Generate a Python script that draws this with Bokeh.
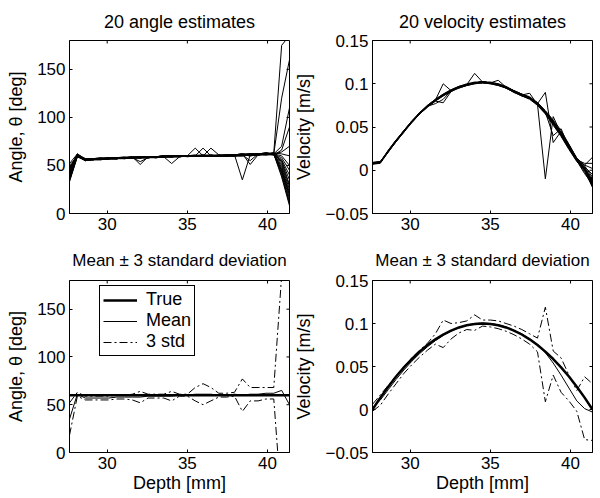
import math
from bokeh.plotting import figure
from bokeh.layouts import gridplot
from bokeh.models import Range1d, FixedTicker, Legend, LegendItem, LinearAxis
from bokeh.embed import file_html
from bokeh.resources import INLINE

FONT = "Liberation Sans"
FS_TICK = "17px"
FS_LAB = "18px"

depth_mm = [27.65, 28.14, 28.63, 29.12, 29.61, 30.10, 30.59, 31.08, 31.57, 32.06,
            32.55, 33.04, 33.53, 34.02, 34.51, 35.00, 35.49, 35.98, 36.47, 36.96,
            37.45, 37.94, 38.43, 38.92, 39.41, 39.90, 40.39, 40.88, 41.37]
x_ticks = [30, 35, 40]
angle_ticks = [0, 50, 100, 150]
velocity_ticks = [-0.05, 0, 0.05, 0.1, 0.15]
velocity_tick_labels = ["\u22120.05", "0", "0.05", "0.1", "0.15"]

# 20 angle estimates [deg]
angle_estimates = [
    [36, 61, 57, 57, 57, 58, 58, 58, 59, 51, 59, 59, 60, 59, 60, 60, 60, 60, 60, 60, 60, 61, 61, 62, 62, 62, 63, 175, 185],
    [40, 60, 56, 56, 57, 57, 57, 58, 58, 54, 58, 59, 59, 60, 60, 60, 60, 60, 60, 60, 61, 61, 62, 61, 62, 63, 62, 120, 160],
    [45, 62, 57, 57, 58, 57, 58, 58, 58, 59, 59, 59, 59, 52, 59, 60, 60, 61, 60, 60, 60, 60, 61, 60, 61, 62, 62, 70, 110],
    [33, 59, 55, 56, 56, 57, 57, 57, 58, 58, 58, 58, 59, 59, 59, 60, 68, 60, 60, 60, 60, 60, 60, 61, 61, 61, 61, 66, 90],
    [50, 60, 56, 57, 57, 57, 58, 58, 58, 58, 59, 59, 59, 59, 60, 60, 60, 68, 60, 60, 60, 60, 61, 61, 62, 62, 62, 64, 70],
    [42, 61, 56, 56, 57, 58, 57, 58, 59, 59, 58, 59, 60, 60, 60, 60, 60, 60, 68, 61, 60, 61, 61, 61, 61, 62, 63, 62, 60],
    [38, 60, 57, 56, 57, 57, 58, 58, 58, 58, 59, 59, 59, 60, 60, 60, 60, 60, 60, 60, 60, 61, 35, 61, 62, 62, 62, 60, 50],
    [47, 61, 55, 56, 56, 57, 57, 58, 58, 59, 59, 58, 59, 59, 59, 60, 60, 60, 60, 60, 61, 61, 62, 51, 61, 62, 62, 58, 45],
    [35, 59, 56, 57, 57, 57, 57, 58, 58, 58, 58, 59, 59, 60, 60, 60, 61, 60, 60, 60, 60, 60, 61, 55, 62, 63, 62, 56, 40],
    [44, 60, 57, 57, 57, 58, 58, 58, 58, 59, 59, 59, 60, 59, 60, 59, 60, 60, 61, 60, 60, 61, 61, 62, 62, 62, 61, 55, 35],
    [52, 62, 56, 56, 57, 57, 58, 57, 58, 58, 59, 59, 59, 60, 60, 60, 60, 60, 60, 60, 60, 60, 60, 61, 61, 61, 62, 54, 30],
    [39, 60, 55, 57, 57, 57, 57, 58, 58, 58, 58, 59, 59, 59, 59, 60, 60, 60, 60, 61, 60, 61, 61, 61, 62, 62, 63, 52, 28],
    [41, 61, 56, 56, 56, 57, 58, 58, 59, 58, 59, 59, 59, 60, 60, 60, 60, 60, 60, 60, 61, 61, 62, 62, 62, 63, 62, 50, 25],
    [37, 60, 57, 57, 57, 57, 57, 58, 58, 59, 58, 59, 60, 59, 60, 60, 60, 60, 60, 60, 60, 60, 61, 61, 61, 62, 62, 48, 22],
    [48, 59, 56, 56, 57, 58, 58, 58, 58, 58, 59, 58, 59, 60, 59, 60, 60, 61, 60, 60, 60, 61, 61, 60, 61, 62, 61, 46, 20],
    [43, 61, 56, 57, 58, 57, 57, 58, 58, 58, 59, 59, 59, 59, 60, 60, 60, 60, 60, 60, 60, 60, 60, 61, 62, 61, 62, 45, 18],
    [34, 60, 57, 56, 57, 57, 58, 59, 58, 59, 59, 59, 60, 60, 60, 60, 60, 60, 60, 61, 61, 61, 61, 62, 62, 62, 63, 44, 15],
    [46, 62, 56, 57, 57, 57, 57, 58, 58, 58, 58, 59, 59, 59, 60, 60, 60, 60, 61, 60, 60, 60, 61, 61, 61, 62, 62, 42, 12],
    [40, 60, 55, 56, 57, 58, 58, 58, 58, 59, 59, 59, 59, 60, 60, 60, 60, 60, 60, 60, 60, 61, 62, 61, 62, 62, 62, 40, 10],
    [38, 61, 56, 57, 57, 57, 58, 58, 59, 58, 59, 59, 59, 59, 60, 60, 60, 60, 60, 60, 61, 60, 61, 62, 61, 63, 62, 38, 8],
]

# 20 velocity estimates [mm/s]
velocity_estimates_mm_s = [
    [8, 9, 22, 34, 45, 56, 66, 74, 81, 100, 92, 96, 99, 101, 102, 101, 99, 96, 91, 87, 84, 77, 67, 55, 42, 27, 12, 2, -15],
    [8, 10, 21, 33, 45, 55, 65, 74, 80, 78, 91, 96, 99, 101, 102, 101, 99, 96, 92, 87, 83, 77, 66, 54, 41, 26, 11, 0, -18],
    [7, 9, 22, 34, 46, 56, 66, 75, 81, 87, 92, 96, 99, 112, 102, 101, 100, 96, 91, 88, 84, 78, 68, 56, 43, 28, 13, 3, -10],
    [8, 9, 23, 35, 45, 56, 66, 74, 77, 82, 92, 96, 98, 101, 102, 101, 99, 95, 91, 87, 84, 77, 67, 55, 42, 27, 12, 1, -20],
    [8, 9, 22, 34, 45, 56, 66, 74, 81, 87, 92, 96, 99, 101, 102, 101, 99, 96, 91, 87, 84, 76, -10, 62, 42, 27, 12, 4, -5],
    [8, 9, 22, 34, 45, 56, 66, 74, 81, 87, 92, 96, 99, 101, 102, 101, 99, 96, 91, 87, 84, 77, 90, 32, 45, 28, 12, 2, -14],
    [9, 10, 22, 34, 45, 56, 65, 74, 81, 87, 92, 96, 99, 101, 102, 101, 99, 96, 91, 87, 84, 77, 67, 40, 48, 26, 11, 6, 15],
    [8, 9, 21, 34, 45, 56, 66, 74, 81, 87, 92, 96, 99, 101, 101, 101, 99, 96, 91, 87, 89, 76, 67, 55, 42, 27, 12, 2, -16],
    [8, 9, 22, 34, 45, 56, 66, 74, 81, 87, 92, 96, 99, 101, 102, 101, 104, 96, 91, 87, 84, 77, 67, 55, 42, 27, 12, 0, -12],
    [8, 9, 22, 33, 44, 55, 65, 73, 80, 86, 91, 95, 98, 100, 101, 100, 98, 95, 90, 86, 82, 75, 65, 52, 39, 24, 10, 1, -17],
    [8, 10, 23, 35, 46, 57, 67, 75, 82, 88, 93, 97, 100, 102, 102, 101, 99, 96, 92, 88, 84, 78, 68, 57, 44, 29, 14, 5, -8],
    [7, 8, 21, 33, 44, 56, 66, 74, 81, 87, 92, 96, 99, 101, 102, 102, 100, 97, 92, 88, 85, 78, 69, 58, 46, 30, 13, 2, -18],
    [8, 9, 22, 34, 45, 56, 66, 74, 81, 87, 92, 96, 99, 101, 102, 101, 99, 96, 91, 86, 83, 76, 66, 53, 40, 25, 11, -2, -19],
    [8, 9, 22, 34, 45, 56, 66, 74, 81, 87, 92, 95, 98, 100, 101, 100, 98, 95, 91, 87, 84, 77, 67, 56, 43, 27, 12, 3, -13],
    [9, 10, 22, 34, 45, 56, 66, 74, 81, 87, 92, 96, 99, 101, 102, 101, 99, 96, 91, 87, 84, 77, 67, 55, 42, 28, 12, 8, 8],
    [8, 9, 22, 34, 46, 57, 66, 75, 82, 88, 93, 97, 99, 101, 102, 101, 99, 96, 91, 87, 83, 76, 66, 54, 41, 26, 11, -4, -16],
    [8, 9, 22, 34, 45, 56, 66, 74, 81, 87, 92, 96, 99, 101, 102, 101, 99, 96, 92, 88, 84, 78, 68, 56, 43, 28, 13, 2, -15],
    [8, 9, 22, 34, 45, 56, 65, 73, 80, 86, 91, 96, 99, 101, 102, 101, 99, 95, 90, 86, 83, 76, 66, 54, 41, 26, 12, 0, -11],
    [8, 9, 22, 34, 45, 56, 66, 74, 81, 87, 92, 96, 99, 101, 102, 101, 99, 96, 91, 87, 84, 77, 67, 55, 44, 30, 14, 6, 2],
    [8, 9, 22, 34, 45, 56, 66, 74, 81, 87, 92, 96, 99, 101, 102, 101, 99, 96, 91, 87, 84, 77, 67, 55, 42, 27, 12, 1, -14],
]

true_angle = [60, 60, 60, 60, 60, 60, 60, 60, 60, 60, 60, 60, 60, 60, 60,
              60, 60, 60, 60, 60, 60, 60, 60, 60, 60, 60, 60, 60, 60]
mean_angle = [35, 61, 57, 57, 57, 57, 58, 58, 58, 58, 59, 59, 59, 59, 60,
              60, 61, 61, 61, 60, 60, 61, 60, 61, 61, 62, 62, 65, 50]
angle_plus_3std = [52, 63, 59, 59, 59, 59, 60, 60, 61, 64, 61, 61, 61, 64, 61,
                   61, 68, 72, 68, 62, 62, 63, 77, 68, 68, 68, 68, 185, 280]
angle_minus_3std = [18, 59, 55, 55, 55, 55, 56, 56, 55, 52, 57, 57, 57, 54, 59,
                    59, 54, 50, 54, 58, 58, 59, 43, 54, 54, 56, 56, -55, -180]

true_velocity = [0.0, 0.0138, 0.0265, 0.0383, 0.0490, 0.0587, 0.0673, 0.0750, 0.0816, 0.0872,
                 0.0918, 0.0954, 0.0980, 0.0995, 0.1000, 0.0995, 0.0980, 0.0954, 0.0918, 0.0872,
                 0.0816, 0.0750, 0.0673, 0.0587, 0.0490, 0.0383, 0.0265, 0.0138, 0.0]
mean_velocity = [0.002, 0.011, 0.023, 0.035, 0.046, 0.056, 0.065, 0.073, 0.080, 0.086,
                 0.091, 0.095, 0.098, 0.100, 0.1005, 0.100, 0.0985, 0.096, 0.092, 0.088,
                 0.082, 0.075, 0.066, 0.054, 0.040, 0.025, 0.010, 0.001, -0.003]
velocity_plus_3std = [0.006, 0.017, 0.028, 0.039, 0.050, 0.060, 0.069, 0.077, 0.088, 0.104,
                      0.100, 0.101, 0.103, 0.110, 0.104, 0.104, 0.103, 0.100, 0.097, 0.093,
                      0.088, 0.083, 0.119, 0.068, 0.060, 0.040, 0.022, 0.038, 0.030]
velocity_minus_3std = [-0.002, 0.005, 0.018, 0.030, 0.042, 0.052, 0.061, 0.069, 0.076, 0.072,
                       0.082, 0.089, 0.093, 0.092, 0.097, 0.096, 0.094, 0.091, 0.087, 0.082,
                       0.076, 0.067, 0.009, 0.040, 0.020, 0.010, -0.002, -0.035, -0.036]


def make_fig(title, width, height, mbl, mbr, mbt, mbb, y_lo, y_hi, y_ticks,
             y_label, x_label=None, y_overrides=None, title_size=FS_LAB, title_gap=9):
    x_lo, x_hi = depth_mm[0], depth_mm[-1]
    p = figure(width=width, height=height, output_backend="svg", toolbar_location=None,
               x_range=Range1d(x_lo, x_hi), y_range=Range1d(y_lo, y_hi),
               min_border_left=mbl, min_border_right=mbr, min_border_top=mbt,
               min_border_bottom=mbb)
    p.xgrid.visible = False
    p.ygrid.visible = False
    p.outline_line_color = "black"
    p.outline_line_alpha = 1
    p.background_fill_color = "white"
    p.border_fill_color = "white"

    xax = p.below[0]
    yax = p.left[0]
    for ax in (xax, yax):
        ax.major_tick_in = 3
        ax.major_tick_out = 0
        ax.minor_tick_line_color = None
        ax.major_tick_line_color = "black"
        ax.axis_line_color = "black"
        ax.major_label_text_font = FONT
        ax.major_label_text_font_size = FS_TICK
        ax.major_label_text_color = "black"
        ax.axis_label_text_font = FONT
        ax.axis_label_text_font_size = FS_LAB
        ax.axis_label_text_font_style = "normal"
        ax.axis_label_text_color = "black"
    xax.ticker = FixedTicker(ticks=x_ticks)
    yax.ticker = FixedTicker(ticks=y_ticks)
    xax.major_label_standoff = 4
    yax.major_label_standoff = 4
    yax.axis_label = y_label
    yax.axis_label_standoff = 8
    if y_overrides:
        yax.major_label_overrides = y_overrides
    if x_label:
        xax.axis_label = x_label
        xax.axis_label_standoff = 1

    # title drawn as the label of a bare top axis, centred over the frame
    head = LinearAxis(ticker=FixedTicker(ticks=[]), axis_label=title,
                      axis_label_standoff=title_gap, axis_line_color=None,
                      major_tick_line_color=None, minor_tick_line_color=None,
                      major_label_standoff=0, major_tick_in=0, major_tick_out=0)
    head.axis_label_text_font = FONT
    head.axis_label_text_font_size = title_size
    head.axis_label_text_font_style = "normal"
    head.axis_label_text_color = "black"
    p.add_layout(head, "above")

    # inward ticks on the top and right frame edges (box on)
    p.scatter(x_ticks, [y_hi] * len(x_ticks), marker="dash", angle=math.pi / 2,
              size=6, line_color="black", line_width=1)
    p.scatter([x_hi] * len(y_ticks), y_ticks, marker="dash",
              size=6, line_color="black", line_width=1)
    return p


vel_overrides = dict(zip(velocity_ticks, velocity_tick_labels))

W1, W2 = 290, 306
H1, H2 = 238, 258

p1 = make_fig("20 angle estimates", W1, H1, 69, 1, 40, 25, 0, 180, angle_ticks,
              "Angle, \u03b8 [deg]")
p1.multi_line(xs=[depth_mm] * len(angle_estimates), ys=angle_estimates,
              line_color="black", line_width=1)

p2 = make_fig("20 velocity estimates", W2, H1, 82, 4, 40, 25, -0.05, 0.15, velocity_ticks,
              "Velocity [m/s]", y_overrides=vel_overrides)
vel_est = [[v / 1000.0 for v in row] for row in velocity_estimates_mm_s]
p2.multi_line(xs=[depth_mm] * len(vel_est), ys=vel_est, line_color="black", line_width=1)

p3 = make_fig("Mean \u00b1 3 standard deviation", W1, H2, 69, 1, 42, 44, 0, 180, angle_ticks,
              "Angle, \u03b8 [deg]", x_label="Depth [mm]", title_size="17px", title_gap=11)
r_true = p3.line(depth_mm, true_angle, line_color="black", line_width=2.5)
r_mean = p3.line(depth_mm, mean_angle, line_color="black", line_width=1)
r_std = p3.line(depth_mm, angle_plus_3std, line_color="black", line_width=1, line_dash="8 3 2 3")
p3.line(depth_mm, angle_minus_3std, line_color="black", line_width=1, line_dash="8 3 2 3")
legend = Legend(items=[LegendItem(label="True", renderers=[r_true]),
                       LegendItem(label="Mean", renderers=[r_mean]),
                       LegendItem(label="3 std", renderers=[r_std])],
                location=(30, 96))
legend.label_text_font = FONT
legend.label_text_font_size = FS_LAB
legend.label_text_color = "black"
legend.border_line_color = "black"
legend.border_line_width = 1
legend.border_line_alpha = 1
legend.background_fill_alpha = 1
legend.padding = 3
legend.spacing = 0
legend.margin = 0
legend.glyph_width = 34
legend.glyph_height = 18
legend.label_height = 18
legend.label_standoff = 9
p3.add_layout(legend)

p4 = make_fig("Mean \u00b1 3 standard deviation", W2, H2, 82, 4, 42, 44, -0.05, 0.15,
              velocity_ticks, "Velocity [m/s]", x_label="Depth [mm]", y_overrides=vel_overrides,
              title_size="17px", title_gap=11)
p4.line(depth_mm, true_velocity, line_color="black", line_width=2.5)
p4.line(depth_mm, mean_velocity, line_color="black", line_width=1)
p4.line(depth_mm, velocity_plus_3std, line_color="black", line_width=1, line_dash="8 3 2 3")
p4.line(depth_mm, velocity_minus_3std, line_color="black", line_width=1, line_dash="8 3 2 3")

grid = gridplot([[p1, p2], [p3, p4]], toolbar_location=None)

open("out.html", "w").write(file_html(grid, INLINE))
